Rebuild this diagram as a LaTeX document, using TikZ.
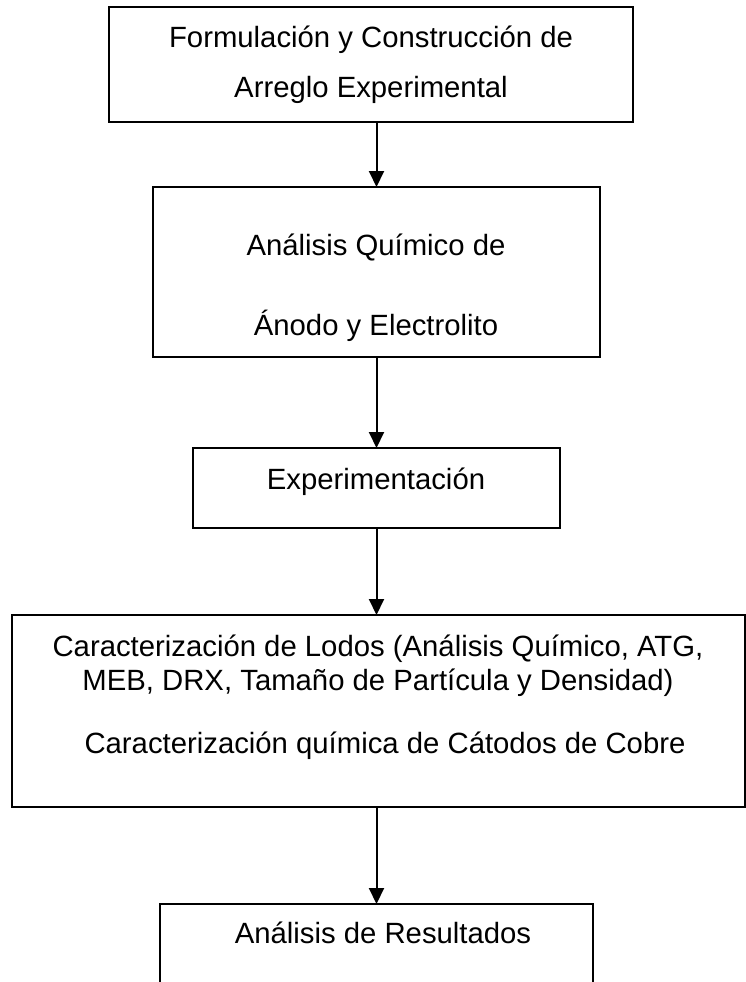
\documentclass[tikz,border=0pt]{standalone}
\usepackage{fontspec}
\setmainfont{Liberation Sans}
\usetikzlibrary{arrows.meta}
\begin{document}
\begin{tikzpicture}[x=1pt,y=-1pt,
  boxnode/.style={draw,line width=2.4pt,inner sep=0pt,outer sep=0pt},
  txt/.style={anchor=base,inner sep=0pt,font=\fontsize{29.3}{35}\selectfont},
  arr/.style={line width=2pt,-{Triangle[length=16pt,width=15pt]}}]
\useasboundingbox (0,0) rectangle (746,982);
\clip (0,0) rectangle (746,982);
\fill[white] (0,0) rectangle (746,982);
% boxes
\node[boxnode,minimum width=524pt,minimum height=115pt] (b1) at (371,64.5) {};
\node[boxnode,minimum width=447pt,minimum height=170pt] (b2) at (376.5,272) {};
\node[boxnode,minimum width=367pt,minimum height=80pt] (b3) at (376.5,488) {};
\node[boxnode,minimum width=733pt,minimum height=192pt] (b4) at (378.5,711) {};
\node[boxnode,minimum width=433pt,minimum height=146pt] (b5) at (376.5,977) {};
% texts
\node[txt] (t1a) at (371,48) {Formulación y Construcción de};
\node[txt] (t1b) at (371,97) {Arreglo Experimental};
\node[txt] (t2a) at (376,255) {Análisis Químico de};
\node[txt] (t2b) at (376,335) {Ánodo y Electrolito};
\node[txt] (t3) at (376,489) {Experimentación};
\node[txt] (t4a) at (378,656) {Caracterización de Lodos (Análisis Químico, ATG,};
\node[txt] (t4b) at (378,690) {MEB, DRX, Tamaño de Partícula y Densidad)};
\node[txt] (t4c) at (385,753) {Caracterización química de Cátodos de Cobre};
\node[txt] (t5) at (383,943) {Análisis de Resultados};
% arrows
\draw[arr] (b1.south -| b2.north) -- (b2.north);
\draw[arr] (b2.south) -- (b3.north);
\draw[arr] (b3.south) -- (b4.north -| b3.south);
\draw[arr] (b4.south -| b5.north) -- (b5.north);
\end{tikzpicture}
\end{document}
